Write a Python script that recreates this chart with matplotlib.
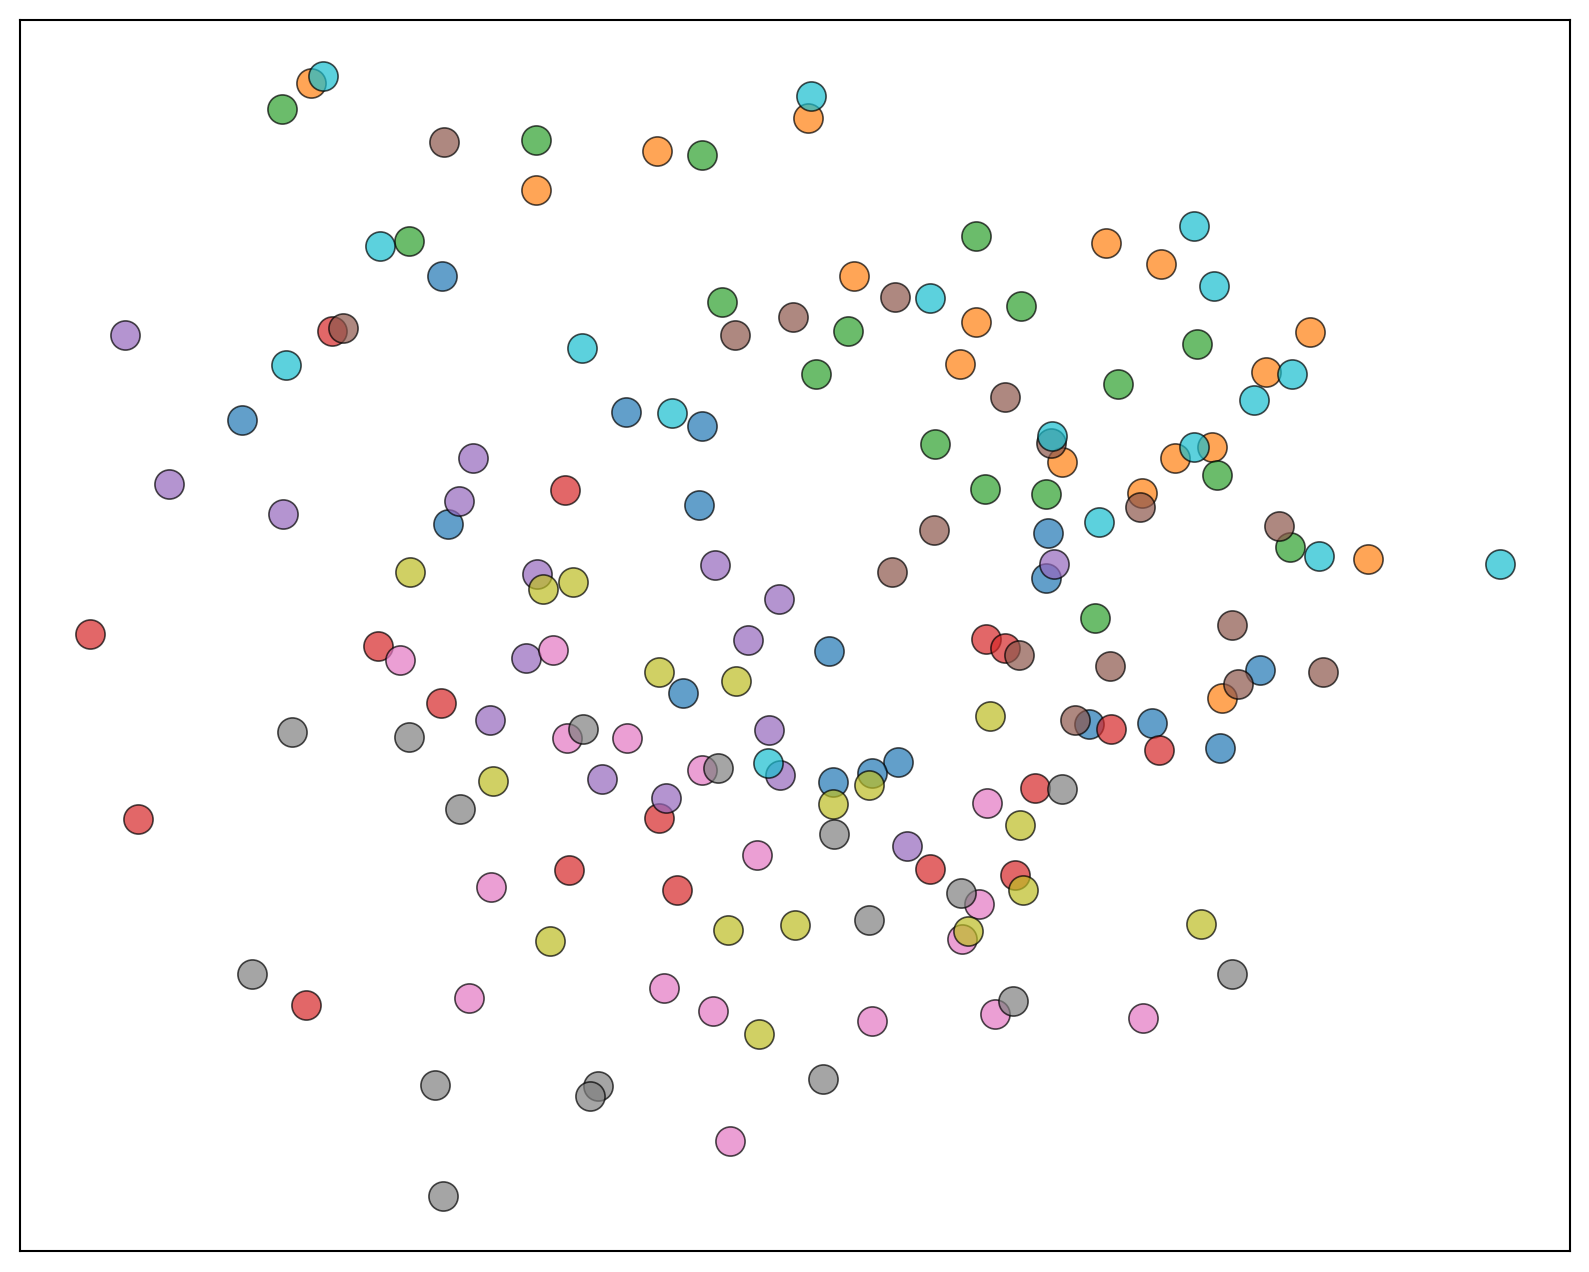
import matplotlib
matplotlib.use("Agg")
import matplotlib.pyplot as plt

# point positions per cluster (y grows downward)
blue_x = [436, 239, 618, 693, 690, 442, 1034, 1032, 818, 674, 1243, 1137, 1075, 1204, 886, 860, 822]
blue_y = [272, 414, 407, 420, 498, 517, 526, 570, 642, 684, 661, 713, 714, 738, 752, 763, 772]

orange_x = [307, 797, 648, 529, 1091, 1146, 843, 963, 1293, 947, 1249, 1048, 1159, 1196, 1127, 1350, 1206]
orange_y = [82, 116, 149, 187, 240, 260, 272, 318, 328, 359, 367, 456, 452, 441, 486, 552, 689]

green_x = [278, 529, 693, 404, 963, 712, 1007, 837, 1181, 805, 1103, 923, 1201, 972, 1032, 1273, 1080]
green_y = [108, 138, 153, 238, 233, 298, 302, 327, 339, 369, 379, 438, 469, 483, 487, 540, 610]

red_x = [328, 557, 89, 373, 973, 992, 435, 1096, 1144, 1021, 136, 650, 561, 918, 1002, 668, 302]
red_y = [327, 484, 626, 637, 631, 639, 694, 719, 740, 778, 808, 807, 859, 858, 863, 878, 992]

purple_x = [123, 467, 167, 453, 279, 530, 706, 1040, 769, 738, 519, 483, 759, 594, 770, 657, 895]
purple_y = [331, 452, 478, 494, 507, 566, 558, 557, 591, 632, 649, 710, 720, 769, 765, 787, 835]

brown_x = [438, 883, 782, 725, 338, 992, 1037, 1125, 922, 1262, 880, 1216, 1005, 1095, 1222, 1305, 1061]
brown_y = [140, 293, 313, 331, 324, 392, 437, 500, 523, 519, 564, 617, 646, 657, 675, 663, 710]

pink_x = [395, 546, 559, 619, 693, 974, 747, 484, 966, 949, 655, 463, 704, 860, 982, 1128, 720]
pink_y = [651, 641, 728, 728, 760, 792, 844, 875, 892, 927, 975, 985, 998, 1008, 1001, 1005, 1126]

gray_x = [288, 404, 575, 708, 1048, 454, 823, 948, 857, 249, 1216, 1000, 429, 590, 582, 812, 437]
gray_y = [722, 727, 719, 758, 779, 798, 823, 881, 908, 961, 961, 988, 1071, 1072, 1082, 1065, 1180]

olive_x = [405, 565, 536, 650, 726, 977, 486, 857, 822, 1006, 1009, 955, 718, 784, 1185, 543, 749]
olive_y = [564, 574, 581, 663, 672, 707, 771, 775, 793, 814, 878, 919, 918, 913, 912, 929, 1020]

cyan_x = [319, 800, 1178, 375, 1198, 918, 574, 282, 1275, 1237, 663, 1038, 1178, 1084, 1302, 1480, 758]
cyan_y = [75, 95, 223, 243, 282, 294, 343, 360, 369, 395, 408, 430, 441, 515, 549, 557, 753]

clusters = [
    (blue_x, blue_y), (orange_x, orange_y), (green_x, green_y), (red_x, red_y),
    (purple_x, purple_y), (brown_x, brown_y), (pink_x, pink_y), (gray_x, gray_y),
    (olive_x, olive_y), (cyan_x, cyan_y),
]

fig = plt.figure(figsize=(15.89, 12.72), dpi=100)
ax = fig.add_axes([20 / 1589, 21 / 1272, 1550 / 1589, 1231 / 1272])

cmap = plt.get_cmap("tab10")
for i, (xs, ys) in enumerate(clusters):
    ax.scatter(xs, ys, s=440, color=cmap(i), alpha=0.7,
               edgecolors="black", linewidths=1.2)

ax.set_xlim(19.7, 1549.2)
ax.set_ylim(1234.5, 19.7)
ax.set_xticks([])
ax.set_yticks([])
for sp in ax.spines.values():
    sp.set_linewidth(1.5)

fig.savefig("out.png", dpi=100)
